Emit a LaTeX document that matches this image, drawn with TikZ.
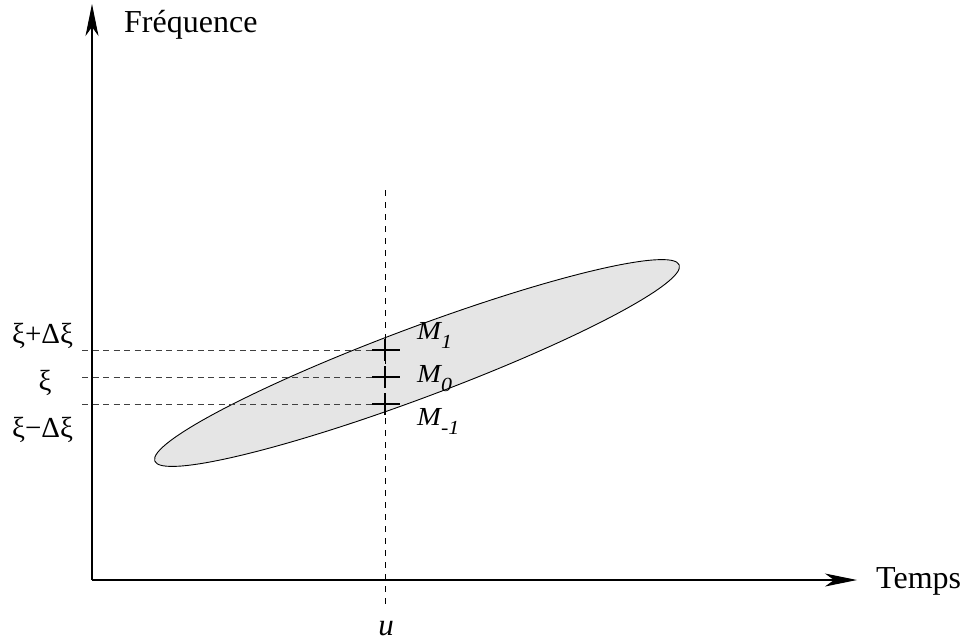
\documentclass[tikz,border=0pt]{standalone}
\usepackage{fontspec}
\setmainfont{Liberation Serif}
\usetikzlibrary{arrows.meta}
\tikzset{
  axisline/.style={line width=1.1pt,-{Stealth[length=32pt,width=13pt,inset=9pt]}},
  guide/.style={line width=0.9pt,black!75,dash pattern=on 6pt off 4.5pt},
  vguide/.style={line width=0.9pt,dash pattern=on 6pt off 6pt},
  crossmark/.style={line width=1.4pt},
  biglab/.style={font=\fontsize{32}{36}\selectfont,inner sep=0pt},
  lab/.style={font=\fontsize{29}{32}\selectfont,inner sep=0pt},
  mlab/.style={font=\fontsize{26}{30}\selectfont\itshape,inner sep=0pt,xscale=1.1},
}
\newcommand{\msubx}[1]{M\raisebox{-0.36em}{\fontsize{20}{22}\selectfont\itshape #1}}
\begin{document}
\begin{tikzpicture}[x=1pt,y=-1pt]
\useasboundingbox (0,0) rectangle (963,641);
% ellipse
\draw[line width=0.9pt,fill=black!10] (417,363) circle[x radius=280,y radius=35,rotate=20.5];
% axes
\coordinate (O) at (92,580);
\coordinate (ytop) at (92,4);
\coordinate (xend) at (857,580);
\draw[axisline] (O) -- (ytop);
\draw[axisline] (O) -- (xend);
\node[biglab,anchor=base west] (freq) at (124,32) {Fréquence};
\node[biglab,anchor=base west] (temps) at (876,588) {Temps};
% vertical guide
\coordinate (utop) at (385,190);
\coordinate (ubot) at (385,608);
\draw[vguide] (utop) -- (ubot);
\node[font=\fontsize{31}{34}\selectfont\itshape,inner sep=0pt] (u) at (386,629) {u};
% points
\coordinate (M1) at (385,350);
\coordinate (M0) at (385,377);
\coordinate (Mm1) at (385,404);
\coordinate (L1) at (82,350);
\coordinate (L0) at (82,377);
\coordinate (Lm1) at (82,404);
\draw[guide] (L1) -- (M1);
\draw[guide] (L0) -- (M0);
\draw[guide] (Lm1) -- (Mm1);
\foreach \p in {M1,M0,Mm1}{
  \draw[crossmark] ([xshift=-13pt]\p) -- ([xshift=15pt]\p);
  \draw[crossmark] ([yshift=-11pt]\p) -- ([yshift=11pt]\p);
}
\node[mlab,anchor=base west] (t1) at (417,339) {\msubx{1}};
\node[mlab,anchor=base west] (t0) at (417,382) {\msubx{0}};
\node[mlab,anchor=base west] (tm1) at (417,425) {\msubx{-1}};
\node[lab,anchor=base west] (xp) at (12,343) {ξ+Δξ};
\node[lab,anchor=base] (x0) at (45,390) {ξ};
\node[lab,anchor=base west] (xm) at (12,437) {ξ−Δξ};
\end{tikzpicture}
\end{document}
